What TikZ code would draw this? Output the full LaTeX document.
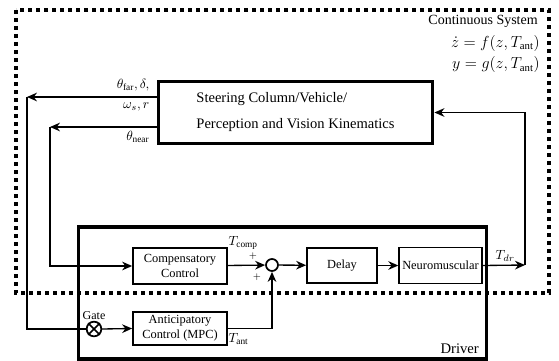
\documentclass[tikz,border=0pt]{standalone}
\usepackage{fontspec}
\setmainfont{Liberation Serif}
\usetikzlibrary{positioning}
\usetikzlibrary{arrows.meta,calc}
\tikzstyle{block}=[draw,line width=1.3pt,font=\fontsize{9.3}{11.5}\selectfont,align=center,inner sep=1.5pt]
\tikzstyle{bigblock}=[draw,line width=2.4pt]
\tikzstyle{flow}=[-{Stealth[length=7.5pt,width=6.5pt]},line width=1pt]
\tikzstyle{wire}=[line width=1pt]
\tikzstyle{system}=[line width=2.6pt,dash pattern=on 3pt off 3pt]
\tikzstyle{tag}=[font=\fontsize{10}{12}\selectfont,inner sep=1pt]

\begin{document}
\begin{tikzpicture}[x=0.75pt,y=-0.75pt]
\useasboundingbox (0,0) rectangle (559,360);

%continuous system
    \draw[system] (16,10) rectangle (549,293);
    \node[tag,anchor=east,inner sep=0pt,font=\fontsize{10.5}{12}\selectfont] (cs) at (538,21) {Continuous System};
    \node[tag,anchor=east,inner sep=0pt,font=\fontsize{11.5}{14}\selectfont] (fz) at (540,43) {$\dot{z}=f(z,T_{\mathrm{ant}})$};
    \node[tag,anchor=east,inner sep=0pt,font=\fontsize{11.5}{14}\selectfont] (gz) at (540,65) {$y=g(z,T_{\mathrm{ant}})$};

    \node[bigblock,minimum width=206pt,minimum height=47pt,align=left,font=\fontsize{10.9}{13}\selectfont] (plant) at (295.5,112.5)
        {Steering Column/Vehicle/\\[6.5pt]Perception and Vision Kinematics};

%driver
    \node[bigblock,minimum width=306.5pt,minimum height=99pt] (driver) at (282.5,293) {};
    \node[tag,anchor=south east,font=\fontsize{11}{13}\selectfont] at ($(driver.south east)+(-8,-5)$) {Driver};

    \node[block,minimum width=70.5pt,minimum height=27pt] (comp) at (180,266) {Compensatory\\Control};
    \node[block,minimum width=70.5pt,minimum height=25pt] (antic) at (180,328.5) {Anticipatory\\Control (MPC)};
    \node[block,minimum width=52.5pt,minimum height=26.5pt] (delay) at (342,265.5) {Delay};
    \node[block,minimum width=62pt,minimum height=27pt] (neuro) at (440.5,265.5) {Neuromuscular};
    \node[circle,draw,line width=1.3pt,minimum size=9pt,inner sep=0pt] (sum) at (272,265) {};
    \node[circle,draw,line width=1.3pt,minimum size=11pt,inner sep=0pt] (gate) at (94,329) {};
    \draw[line width=1.3pt] (gate.north west) -- (gate.south east) (gate.north east) -- (gate.south west);
    \node[tag,above=0pt of gate,font=\fontsize{9}{10}\selectfont] {Gate};

    \coordinate (far) at (27,97);
    \coordinate (near) at (50,127);
    \coordinate (tdr) at (525,265);

%signals
    \draw[flow] (plant.west |- far) -- (far);
    \draw[wire] (far) |- (gate.west);
    \draw[flow] (plant.west |- near) -- (near);
    \draw[flow] (near) |- (comp.west);
    \draw[flow] (gate.east) -- (antic.west);
    \foreach \source/\dest in {comp/sum, sum/delay, delay/neuro}
        \draw[flow] (\source) -- (\dest);
    \draw[flow] (neuro.east) -- (tdr);
    \draw[flow] (tdr) |- (plant.east);
    \draw[flow] (antic.east) -| (sum.south);

    \node[tag,anchor=east] at (151,85) {$\theta_{\mathrm{far}},\delta,$};
    \node[tag,anchor=east] at (151,107) {$\omega_s,r$};
    \node[tag,anchor=east] at (151,137) {$\theta_{\mathrm{near}}$};
    \node[tag,anchor=west] at (227,243) {$T_{\mathrm{comp}}$};
    \node[tag,anchor=west] at (227,339) {$T_{\mathrm{ant}}$};
    \node[tag,anchor=west] at (494,256) {$T_{dr}$};
    \node[tag,font=\scriptsize] at (253,256) {$+$};
    \node[tag,font=\scriptsize] at (257,277) {$+$};

\end{tikzpicture}
\end{document}
